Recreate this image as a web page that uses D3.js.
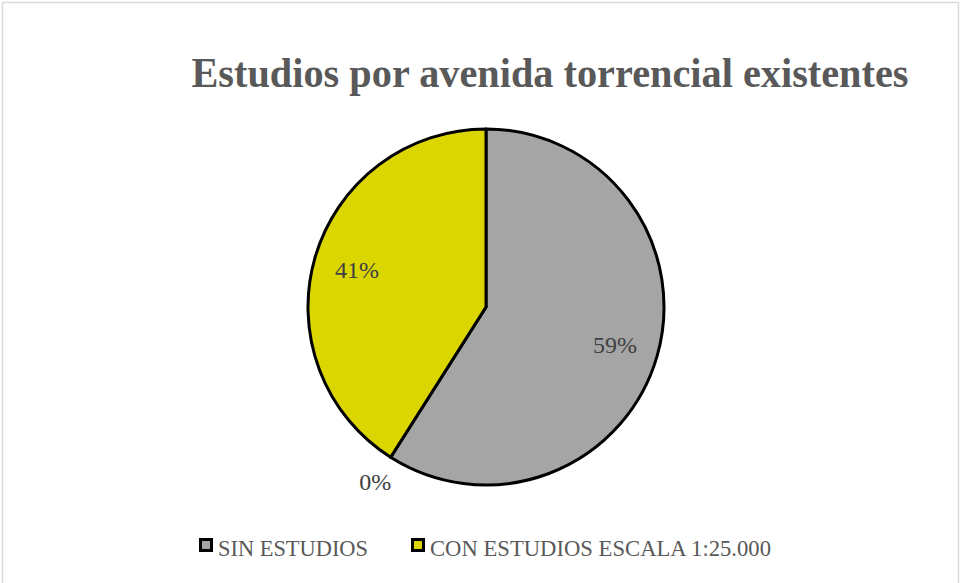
<!DOCTYPE html>
<html lang="es">
    <head>
        <meta charset="UTF-8" />
        <title>D3</title>
        <script src="https://d3js.org/d3.v7.min.js"></script>
        <style>
            body { margin: 0; background: #fff; }
            text { font-family: "Liberation Serif", "DejaVu Serif", serif; }
        </style>
    </head>
    <body>
        <div class="canvas"></div>
        <script>
            const categories = ["SIN ESTUDIOS", "", "CON ESTUDIOS ESCALA 1:25.000"];
            const values = [59, 0, 41];
            const colors = ["#a5a5a5", "#ffc000", "#dbd500"];
            const title = "Estudios por avenida torrencial existentes";

            const width = 960;
            const height = 583;
            const [cx, cy, r] = [486, 307, 178];

            const svg = d3
                .select(".canvas")
                .append("svg")
                .attr("width", width)
                .attr("height", height);

            // chart area border
            svg.append("rect")
                .attr("x", 2.5)
                .attr("y", 2.5)
                .attr("width", 956)
                .attr("height", 590)
                .attr("fill", "#fff")
                .attr("stroke", "#d9d9d9")
                .attr("stroke-width", 1.5);

            svg.append("text")
                .attr("x", 550)
                .attr("y", 87)
                .attr("text-anchor", "middle")
                .attr("fill", "#595959")
                .attr("font-weight", "bold")
                .attr("font-size", "42px")
                .attr("textLength", 717)
                .attr("lengthAdjust", "spacingAndGlyphs")
                .text(title);

            const data = categories.map((c, i) => ({ name: c, value: values[i], color: colors[i] }));

            const pie = d3.pie().sort(null).value((d) => d.value);
            const arcs = pie(data);

            const arc = d3.arc().innerRadius(0).outerRadius(r);
            const g = svg.append("g").attr("transform", `translate(${cx}, ${cy})`);

            g.selectAll("path")
                .data(arcs)
                .enter()
                .append("path")
                .attr("d", arc)
                .attr("fill", (d) => d.data.color)
                .attr("stroke", "#000")
                .attr("stroke-width", 3)
                .attr("stroke-linejoin", "round");

            const inLabel = d3.arc().innerRadius(r * 0.755).outerRadius(r * 0.755);
            const outLabel = d3.arc().innerRadius(r * 1.16).outerRadius(r * 1.16);
            const total = d3.sum(values);

            g.selectAll(".lbl")
                .data(arcs)
                .enter()
                .append("text")
                .attr("class", "lbl")
                .attr("transform", (d) => {
                    const p = d.value > 0 ? inLabel.centroid(d) : outLabel.centroid(d);
                    return `translate(${p[0]}, ${p[1]})`;
                })
                .attr("dy", "0.35em")
                .attr("text-anchor", "middle")
                .attr("fill", "#404040")
                .attr("font-size", "24px")
                .text((d) => Math.round((d.value / total) * 100) + "%");

            // legend
            const legendItems = data.filter((d) => d.name !== "");
            const legendX = [199, 411];
            const legendW = [150, 341];
            const legend = svg
                .selectAll(".legend")
                .data(legendItems)
                .enter()
                .append("g")
                .attr("transform", (d, i) => `translate(${legendX[i]}, 538)`);

            legend
                .append("rect")
                .attr("x", 1.5)
                .attr("y", 1.5)
                .attr("width", 11)
                .attr("height", 11)
                .attr("fill", (d) => d.color)
                .attr("stroke", "#000")
                .attr("stroke-width", 3);

            legend
                .append("text")
                .attr("x", 19)
                .attr("y", 18)
                .attr("fill", "#595959")
                .attr("font-size", "24px")
                .attr("textLength", (d, i) => legendW[i])
                .attr("lengthAdjust", "spacingAndGlyphs")
                .text((d) => d.name);
        </script>
    </body>
</html>
